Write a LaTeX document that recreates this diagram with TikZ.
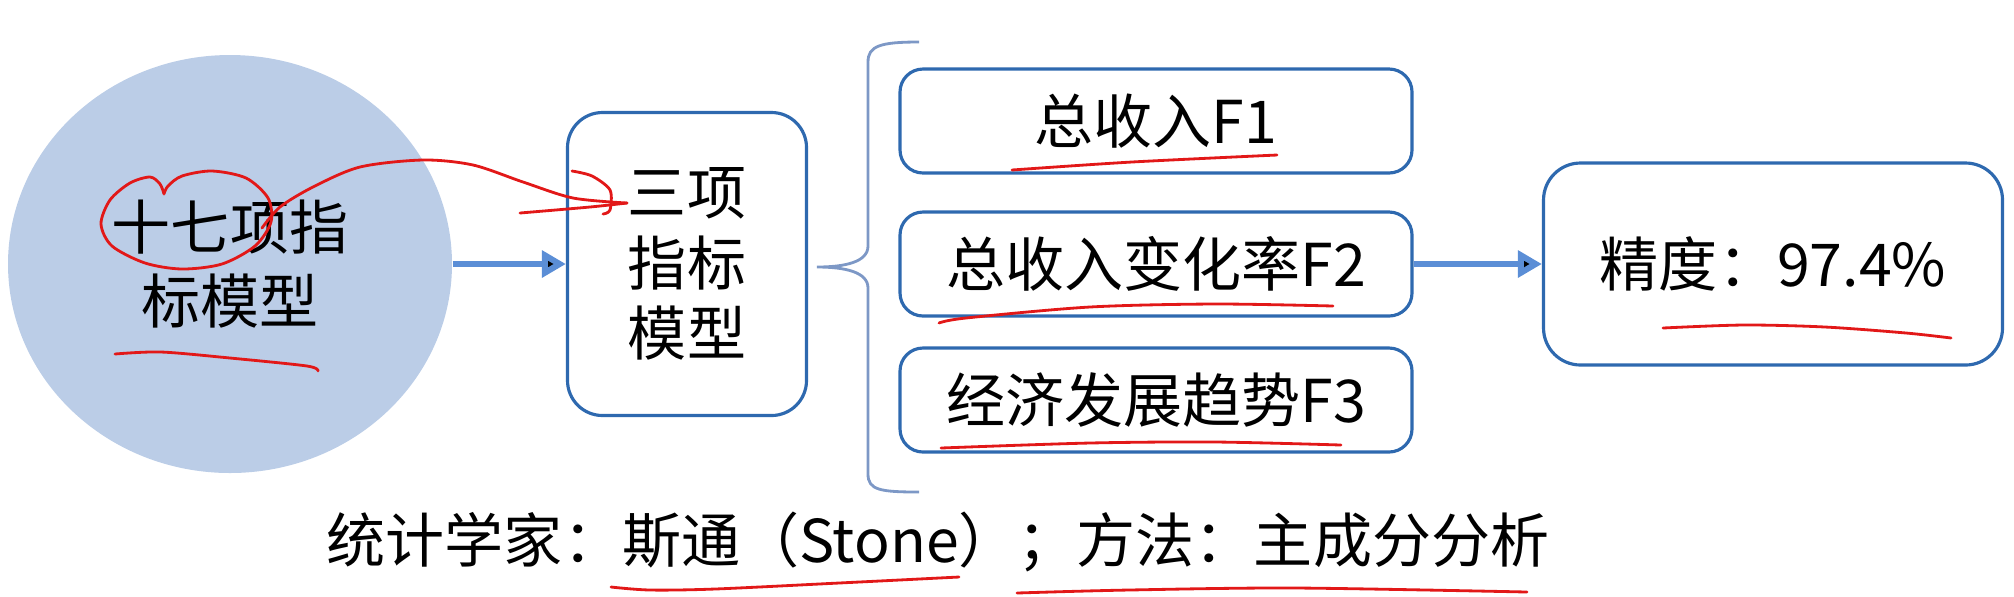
\documentclass[tikz,border=0pt]{standalone}
\usepackage{fontspec}
\setmainfont{Noto Sans CJK SC}
\usepackage{tikz}
\usetikzlibrary{shapes.geometric, arrows.meta}

\definecolor{discblue}{RGB}{187,205,231}
\definecolor{boxblue}{RGB}{46,105,175}
\definecolor{flowblue}{RGB}{91,142,214}
\definecolor{bracegray}{RGB}{125,152,198}
\definecolor{inkred}{RGB}{226,24,24}

\begin{document}
\begin{tikzpicture}[x=0.1mm, y=-0.1mm,
    every node/.style={font=\fontsize{16.8}{20}\selectfont, inner sep=0pt},
    card/.style={draw=boxblue, line width=0.9pt, align=center},
    flow/.style={-{Triangle[length=2.4mm, width=2.6mm]}, draw=flowblue, line width=1.8pt},
    ink/.style={draw=inkred, line width=0.8pt, line cap=round, line join=round}]
    \useasboundingbox (0,0) rectangle (2014,596);

    \node[ellipse, fill=discblue, minimum width=44.4mm, minimum height=41.8mm, align=center, font=\fontsize{16.8}{21.3}\selectfont] at (230, 264) (model17) {十七项指\\标模型};
    \node[card, rounded corners=3.5mm, minimum width=23.9mm, minimum height=30.3mm] at (687, 264) (model3) {三项\\指标\\模型};
    \node[card, rounded corners=2.3mm, minimum width=51.2mm, minimum height=10.4mm] at (1156, 121) (featA) {总收入F1};
    \node[card, rounded corners=2.3mm, minimum width=51.2mm, minimum height=10.4mm] at (1156, 264) (featB) {总收入变化率F2};
    \node[card, rounded corners=2.3mm, minimum width=51.2mm, minimum height=10.4mm] at (1156, 400) (featC) {经济发展趋势F3};
    \node[card, rounded corners=3.7mm, minimum width=45.9mm, minimum height=20.2mm] at (1773, 264) (accuracy) {精度：97.4\%};
    \node at (938, 542) (caption) {统计学家：斯通（Stone）；方法：主成分分析};

    \draw[flow] (model17) edge (model3);
    \draw[flow] (featB) edge (accuracy);

    % brace
    \draw[bracegray, line width=0.8pt] (919,42) .. controls (880,42) and (868,46) .. (868,62) -- (868,246) .. controls (868,262) and (845,267) .. (817,267) .. controls (845,267) and (868,272) .. (868,288) -- (868,474) .. controls (868,490) and (880,492) .. (919,492);

    % red pen marks
    \draw[ink] plot[smooth] coordinates {(164,194) (168,186) (182,176) (212,171) (246,178) (268,198) (271,222) (255,246) (222,264) (182,269) (145,263) (112,246) (101,224) (110,200) (130,183) (150,177) (160,184) (164,194)};
    \draw[ink] plot[smooth] coordinates {(262,228) (280,207) (313,187) (360,167) (423,160) (473,165) (523,182) (573,198) (627,203)};
    \draw[ink] plot[smooth] coordinates {(627,203) (590,207) (520,213)};
    \draw[ink] plot[smooth] coordinates {(572,171) (592,176) (610,190) (610,210) (603,214)};
    \draw[ink] plot[smooth] coordinates {(115,354) (161,352) (230,358) (307,366) (318,371)};
    \draw[ink] plot[smooth] coordinates {(1012,170) (1132,162) (1277,155)};
    \draw[ink] plot[smooth] coordinates {(939,323) (966,318) (1090,307) (1215,304) (1333,306)};
    \draw[ink] plot[smooth] coordinates {(941,448) (1090,443) (1215,442) (1341,445)};
    \draw[ink] plot[smooth] coordinates {(1663,328) (1744,325) (1825,327) (1906,333) (1951,338)};
    \draw[ink] plot[smooth] coordinates {(611,587) (650,590) (715,589) (839,583) (959,577)};
    \draw[ink] plot[smooth] coordinates {(1017,593) (1129,590) (1295,588) (1527,592)};
\end{tikzpicture}
\end{document}
